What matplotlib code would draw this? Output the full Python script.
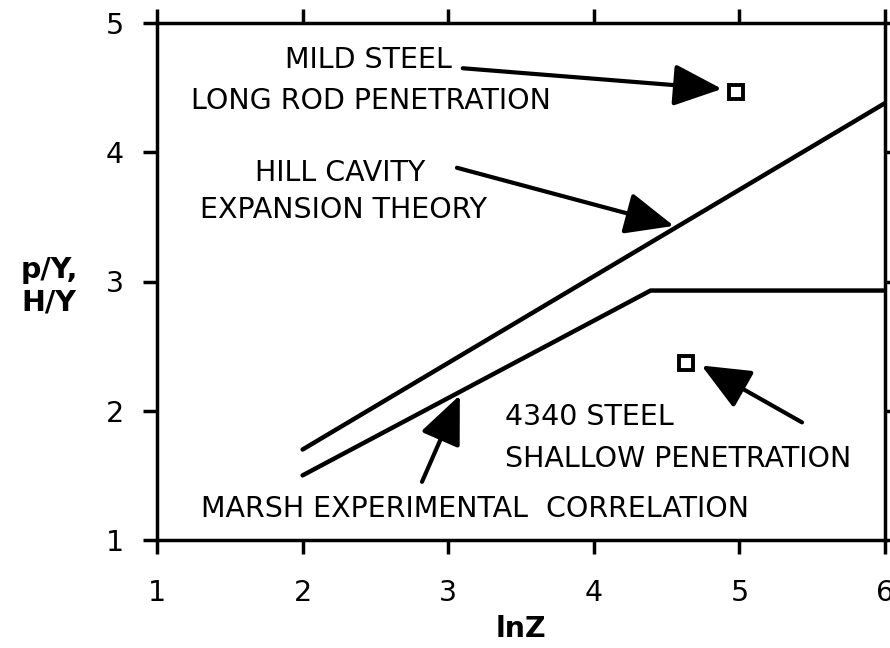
import matplotlib
matplotlib.use("Agg")
import matplotlib.pyplot as plt

# lnZ vs p/Y, H/Y
HILL_X = [2.0, 6.0]
HILL_Y = [1.70, 4.38]
MARSH_X = [2.0, 4.39, 6.0]
MARSH_Y = [1.50, 2.93, 2.93]
MILD_STEEL = (4.98, 4.47)
STEEL_4340 = (4.63, 2.37)

X_TICKS = [1, 2, 3, 4, 5, 6]
Y_TICKS = [1, 2, 3, 4, 5]

FS = 20.5
LW = 3.2

fig = plt.figure(figsize=(8.9, 6.48), dpi=100)
ax = fig.add_axes([157 / 890, 1 - 540 / 648, (885 - 157) / 890, (540 - 23) / 648])

ax.plot(HILL_X, HILL_Y, color="black", lw=LW, solid_capstyle="round")
ax.plot(MARSH_X, MARSH_Y, color="black", lw=LW, solid_capstyle="round", solid_joinstyle="miter")
for pt in (MILD_STEEL, STEEL_4340):
    ax.plot(*pt, marker="s", ms=10, mfc="white", mec="black", mew=2.8, ls="none")

ax.set_xlim(1, 6)
ax.set_ylim(1, 5)
ax.set_xticks(X_TICKS)
ax.set_yticks(Y_TICKS)
ax.tick_params(direction="out", length=10, width=2.5, labelsize=FS, pad=14,
               top=True, right=True, labeltop=False, labelright=False)
ax.tick_params(axis="x", pad=18)
for s in ax.spines.values():
    s.set_linewidth(2.5)

ax.set_xlabel("lnZ", fontsize=FS, fontweight="bold", labelpad=6)
ax.set_ylabel("p/Y,\nH/Y", fontsize=FS, fontweight="bold", rotation=0,
              ha="center", va="center", labelpad=0)
ax.yaxis.set_label_coords(-0.148, 0.49)

arrow = dict(arrowstyle="-|>,head_length=1.5,head_width=0.65", color="black",
             lw=3, mutation_scale=20, shrinkA=0, shrinkB=0)

ax.text(2.45, 4.71, "MILD STEEL", fontsize=FS, ha="center", va="center")
ax.text(2.47, 4.40, "LONG ROD PENETRATION", fontsize=FS, ha="center", va="center")
ax.annotate("", xy=(4.88, 4.49), xytext=(3.10, 4.65), arrowprops=arrow)

ax.text(2.26, 3.84, "HILL CAVITY", fontsize=FS, ha="center", va="center")
ax.text(2.28, 3.55, "EXPANSION THEORY", fontsize=FS, ha="center", va="center")
ax.annotate("", xy=(4.55, 3.43), xytext=(3.06, 3.88), arrowprops=arrow)

ax.text(3.39, 1.95, "4340 STEEL", fontsize=FS, ha="left", va="center")
ax.text(3.39, 1.63, "SHALLOW PENETRATION", fontsize=FS, ha="left", va="center")
ax.annotate("", xy=(4.74, 2.35), xytext=(5.43, 1.91), arrowprops=arrow)

ax.text(1.30, 1.24, "MARSH EXPERIMENTAL  CORRELATION", fontsize=FS, ha="left", va="center")
ax.annotate("", xy=(3.08, 2.12), xytext=(2.82, 1.45), arrowprops=arrow)

fig.savefig("out.png", dpi=100)
